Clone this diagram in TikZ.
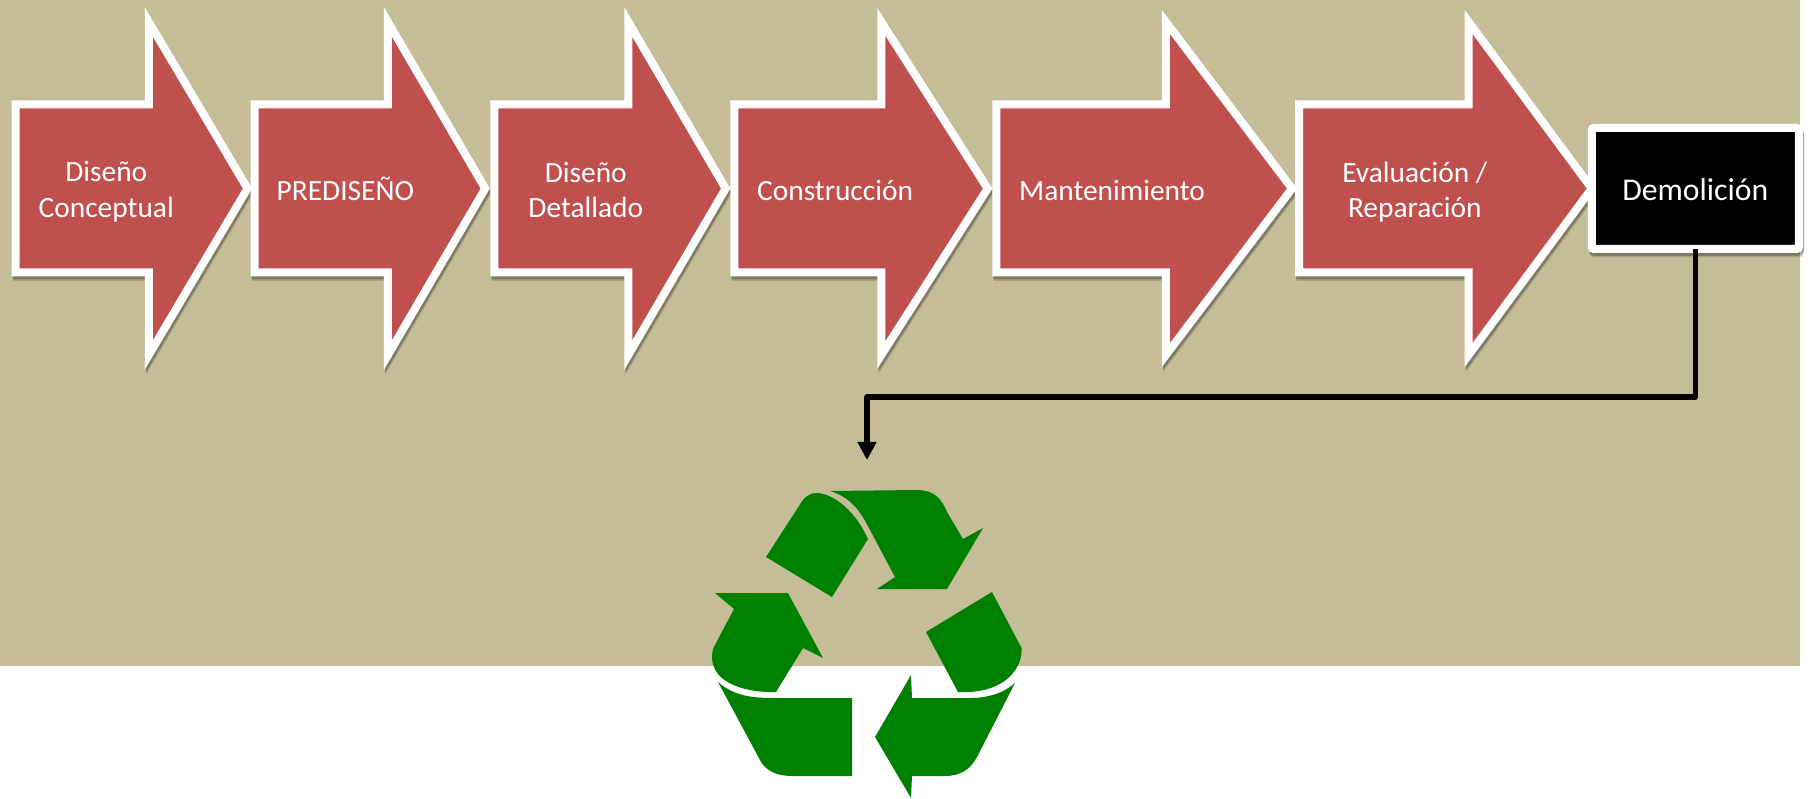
\documentclass[tikz,border=0pt]{standalone}
\usepackage{fontspec}
\setmainfont{Carlito}
\usepackage{tikz}
\usetikzlibrary{calc,positioning,shapes,shapes.arrows,shadows,arrows.meta}
\definecolor{fondo}{HTML}{C4BD97}
\definecolor{rojo}{HTML}{C0504D}
\definecolor{verde}{HTML}{008000}
\tikzset{
	sombra/.style={general shadow={shadow xshift=1.5pt,shadow yshift=-4.5pt,fill=black,draw=black,line width=8pt,opacity=.14},
		general shadow={shadow xshift=1pt,shadow yshift=-3pt,fill=black,draw=black,line width=8pt,opacity=.24}},
	flecha/.style 2 args={shape=single arrow,sombra,draw=white,line width=8pt,fill=rojo,outer sep=0pt,inner sep=0pt,
		text height=80pt,text depth=80pt,
		minimum height=#1,minimum width=332pt,single arrow head extend=82.5pt,single arrow head indent=0pt,
		single arrow tip angle={2*atan(166/#2)}},
	caja/.style={shape=rectangle,sombra,draw=white,line width=8pt,fill=black,outer sep=0pt,rounded corners=2pt,
		minimum width=207pt,minimum height=121pt},
	etiqueta/.style={text=white,inner sep=0pt,align=center,yshift=-3.5pt,font=\fontsize{29.4}{35.5}\selectfont},
	uno/.style={etiqueta,yshift=1.8pt,text height=26pt,text depth=5pt},
	conector/.style={draw=black,line width=5.5pt,line join=round,-{Triangle[length=18pt,width=18pt]}},
	reciclaje/.style={fill=verde}
}
\begin{document}
\begin{tikzpicture}[x=1pt,y=-1pt]
		\useasboundingbox (0,0) rectangle (1808,799);
		\fill[white] (0,0) rectangle (1808,799);
		\fill[fondo] (0,0) rectangle (1800,666);
		\begin{scope}
			\node(a1) [flecha={232pt}{98.4},anchor=west] at (15.5,188.5) {};
			\node(a2) [right=7pt of a1,flecha={230.7pt}{97}] {};
			\node(a3) [right=9pt of a2,flecha={231.4pt}{97}] {};
			\node(a4) [right=8.6pt of a3,flecha={253.4pt}{106}] {};
			\node(a5) [right=8.6pt of a4,flecha={295.7pt}{125.7}] {};
			\node(a6) [right=7pt of a5,flecha={292.7pt}{122.7}] {};
			\node(demol) [right=0pt of a6,caja] {};
			% textos
			\node(t1) [right=23pt of a1.west,etiqueta] {Diseño\\Conceptual};
			\node(t2) [right=22pt of a2.west,uno] {PREDISEÑO};
			\node(t3) [right=34pt of a3.west,etiqueta,yshift=2pt] {Diseño\\Detallado};
			\node(t4) [right=22.7pt of a4.west,uno] {Construcción};
			\node(t5) [right=22.6pt of a5.west,uno] {Mantenimiento};
			\node(t6) [right=43pt of a6.west,etiqueta] {Evaluación /\\Reparación};
			\node(t7) at (demol.center) [uno,font=\fontsize{31.7}{35}\selectfont] {Demolición};
			\coordinate(fin) at (867,460);
			\path[conector] (demol.south) -- ++(0,148) -| (fin);
		\end{scope}
		% simbolo de reciclaje
		\begin{scope}
			\fill[reciclaje] (766,557) -- (832,597) -- (868,539) .. controls (857,514) and (835,493) .. (816,493) .. controls (808,493) and (803,499) .. (799,506) -- cycle;
			\fill[reciclaje] (830,491) -- (917,490) .. controls (935,490) and (942,500) .. (947,512) -- (963,539) -- (983,528) -- (947,589) -- (877,589) -- (895,577) -- (870,530) .. controls (860,510) and (850,497) .. (830,491) -- cycle;
			\fill[reciclaje] (715,593) -- (788,593) -- (823,658) -- (803,648) -- (776,692) .. controls (750,693) and (712,685) .. (712,657) .. controls (712,650) and (714,647) .. (716,643) -- (734,609) -- cycle;
			\fill[reciclaje] (718,682) .. controls (735,697) and (755,698) .. (775,698) -- (852,698) -- (852,776) -- (793,776) .. controls (775,776) and (765,770) .. (760,760) -- cycle;
			\fill[reciclaje] (992,592) -- (1021.5,648) .. controls (1023,668) and (1005,692) .. (965,692) -- (958,692) -- (926,632) -- cycle;
			\fill[reciclaje] (911,675) -- (912,698) -- (970,698) .. controls (990,698) and (1005,692) .. (1015,683) -- (977,757) .. controls (970,770) and (960,776) .. (945,776) -- (912,776) -- (911,798) -- (875,737) -- cycle;
		\end{scope}
	\end{tikzpicture}
\end{document}
